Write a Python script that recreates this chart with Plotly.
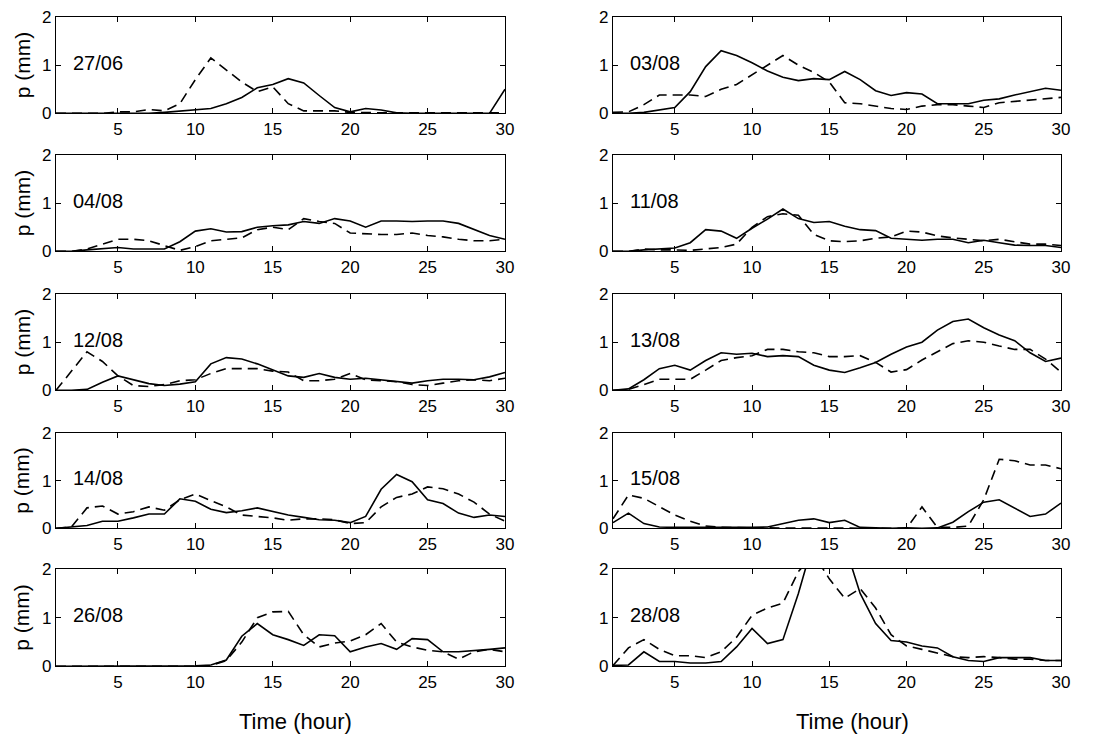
"""
Hourly precipitation p (mm) over 30 hours for ten event dates,
two series per panel (solid and dashed), 5 x 2 grid of small panels.
"""

import plotly.graph_objects as go

hours = list(range(1, 31))
dates = ["27/06", "03/08", "04/08", "11/08", "12/08",
         "13/08", "14/08", "15/08", "26/08", "28/08"]

solid_2706 = [0, 0, 0, 0, 0, 0, 0, 0.02, 0.05, 0.07, 0.1, 0.2, 0.33, 0.53, 0.6,
              0.72, 0.63, 0.37, 0.12, 0.03, 0.1, 0.07, 0.01, 0, 0, 0, 0, 0, 0, 0.5]
dashed_2706 = [0, 0, 0, 0, 0.03, 0.03, 0.08, 0.05, 0.2, 0.7, 1.15, 0.9, 0.65, 0.45, 0.55,
               0.2, 0.05, 0.05, 0.05, 0.02, 0.01, 0.01, 0.01, 0.01, 0.01, 0.01, 0.01, 0.01, 0.01, 0.01]

solid_0308 = [0, 0, 0.02, 0.07, 0.12, 0.45, 0.97, 1.3, 1.2, 1.05, 0.88, 0.75, 0.68, 0.72, 0.7,
              0.87, 0.7, 0.47, 0.37, 0.43, 0.4, 0.2, 0.2, 0.2, 0.27, 0.3, 0.38, 0.45, 0.52, 0.48]
dashed_0308 = [0.02, 0.03, 0.18, 0.38, 0.38, 0.38, 0.35, 0.5, 0.6, 0.8, 1.0, 1.2, 1.0, 0.85, 0.65,
               0.22, 0.2, 0.15, 0.1, 0.08, 0.15, 0.18, 0.18, 0.15, 0.12, 0.22, 0.25, 0.28, 0.3, 0.33]

solid_0408 = [0, 0, 0.03, 0.05, 0.08, 0.05, 0.05, 0.05, 0.2, 0.42, 0.47, 0.4, 0.41, 0.5, 0.53,
              0.55, 0.62, 0.58, 0.68, 0.63, 0.5, 0.63, 0.63, 0.62, 0.63, 0.63, 0.58, 0.45, 0.33, 0.25]
dashed_0408 = [0, 0, 0.05, 0.15, 0.25, 0.25, 0.22, 0.12, 0.02, 0.1, 0.22, 0.25, 0.28, 0.45, 0.5,
               0.45, 0.68, 0.62, 0.58, 0.38, 0.36, 0.35, 0.35, 0.38, 0.33, 0.3, 0.25, 0.22, 0.22, 0.25]

solid_1108 = [0, 0, 0.03, 0.05, 0.07, 0.18, 0.45, 0.42, 0.27, 0.48, 0.67, 0.88, 0.68, 0.6, 0.62,
              0.52, 0.45, 0.43, 0.27, 0.25, 0.23, 0.25, 0.25, 0.18, 0.23, 0.18, 0.13, 0.12, 0.12, 0.08]
dashed_1108 = [0, 0, 0.05, 0.03, 0.03, 0.02, 0.05, 0.08, 0.15, 0.5, 0.72, 0.78, 0.75, 0.35, 0.22,
               0.2, 0.22, 0.27, 0.3, 0.42, 0.4, 0.32, 0.28, 0.25, 0.22, 0.25, 0.2, 0.15, 0.15, 0.12]

solid_1208 = [0, 0, 0.02, 0.17, 0.3, 0.22, 0.14, 0.1, 0.13, 0.18, 0.55, 0.68, 0.65, 0.55, 0.42,
              0.3, 0.27, 0.35, 0.27, 0.23, 0.25, 0.22, 0.18, 0.15, 0.2, 0.23, 0.23, 0.22, 0.28, 0.37]
dashed_1208 = [0, 0.4, 0.8, 0.6, 0.3, 0.1, 0.08, 0.12, 0.2, 0.22, 0.35, 0.45, 0.45, 0.45, 0.4,
               0.38, 0.2, 0.2, 0.23, 0.35, 0.22, 0.2, 0.18, 0.12, 0.1, 0.15, 0.2, 0.22, 0.2, 0.25]

solid_1308 = [0, 0.03, 0.22, 0.45, 0.52, 0.42, 0.62, 0.78, 0.75, 0.77, 0.7, 0.72, 0.7, 0.52, 0.42,
              0.37, 0.47, 0.58, 0.75, 0.9, 1.0, 1.25, 1.43, 1.48, 1.3, 1.15, 1.03, 0.78, 0.6, 0.67]
dashed_1308 = [0, 0.02, 0.12, 0.23, 0.23, 0.23, 0.42, 0.62, 0.68, 0.72, 0.85, 0.85, 0.8, 0.78, 0.7,
               0.7, 0.72, 0.58, 0.38, 0.43, 0.63, 0.8, 0.97, 1.03, 1.0, 0.92, 0.85, 0.85, 0.65, 0.38]

solid_1408 = [0, 0.03, 0.06, 0.15, 0.15, 0.22, 0.3, 0.3, 0.62, 0.57, 0.4, 0.33, 0.37, 0.43, 0.35,
              0.28, 0.23, 0.18, 0.17, 0.12, 0.25, 0.82, 1.13, 0.98, 0.6, 0.52, 0.32, 0.23, 0.28, 0.25]
dashed_1408 = [0, 0.03, 0.43, 0.47, 0.3, 0.35, 0.45, 0.38, 0.6, 0.72, 0.58, 0.45, 0.28, 0.25, 0.22,
               0.17, 0.2, 0.2, 0.18, 0.1, 0.12, 0.45, 0.65, 0.72, 0.87, 0.83, 0.72, 0.55, 0.3, 0.15]

solid_1508 = [0.12, 0.32, 0.1, 0.03, 0.02, 0.02, 0.01, 0.01, 0.01, 0.02, 0.03, 0.1, 0.17, 0.2, 0.12,
              0.17, 0.02, 0.01, 0, 0.01, 0, 0.01, 0.13, 0.35, 0.55, 0.6, 0.42, 0.25, 0.3, 0.53]
dashed_1508 = [0.2, 0.7, 0.63, 0.45, 0.28, 0.15, 0.05, 0.02, 0.01, 0.01, 0.01, 0.01, 0, 0, 0,
               0, 0, 0, 0, 0, 0.45, 0.02, 0.02, 0.05, 0.6, 1.45, 1.42, 1.33, 1.33, 1.25]

solid_2608 = [0, 0, 0, 0, 0, 0, 0, 0, 0, 0.01, 0.03, 0.13, 0.62, 0.88, 0.65,
              0.55, 0.43, 0.65, 0.63, 0.3, 0.4, 0.47, 0.35, 0.57, 0.55, 0.3, 0.3, 0.32, 0.35, 0.38]
dashed_2608 = [0, 0, 0, 0, 0, 0, 0, 0, 0, 0, 0.02, 0.12, 0.5, 1.0, 1.12,
               1.13, 0.65, 0.4, 0.48, 0.52, 0.65, 0.88, 0.5, 0.4, 0.33, 0.3, 0.15, 0.3, 0.35, 0.3]

solid_2808 = [0.02, 0.03, 0.3, 0.1, 0.1, 0.07, 0.07, 0.1, 0.4, 0.78, 0.47, 0.55, 1.5, 2.6, 2.9,
              2.5, 1.5, 0.88, 0.53, 0.5, 0.42, 0.38, 0.2, 0.12, 0.1, 0.18, 0.18, 0.18, 0.12, 0.12]
dashed_2808 = [0.02, 0.38, 0.55, 0.35, 0.22, 0.22, 0.18, 0.3, 0.6, 1.05, 1.2, 1.3, 1.95, 2.3, 1.8,
               1.4, 1.6, 1.2, 0.65, 0.42, 0.35, 0.28, 0.2, 0.18, 0.2, 0.18, 0.15, 0.15, 0.12, 0.12]

# (label, solid, dashed, row, col)
panels = [
    (dates[0], solid_2706, dashed_2706, 0, 0),
    (dates[1], solid_0308, dashed_0308, 0, 1),
    (dates[2], solid_0408, dashed_0408, 1, 0),
    (dates[3], solid_1108, dashed_1108, 1, 1),
    (dates[4], solid_1208, dashed_1208, 2, 0),
    (dates[5], solid_1308, dashed_1308, 2, 1),
    (dates[6], solid_1408, dashed_1408, 3, 0),
    (dates[7], solid_1508, dashed_1508, 3, 1),
    (dates[8], solid_2608, dashed_2608, 4, 0),
    (dates[9], solid_2808, dashed_2808, 4, 1),
]

W, H = 1102, 735
OFF = 8  # page body margin the figure sits inside
FONT = "Liberation Sans, Arial, Helvetica, sans-serif"

# panel geometry in window pixels
col_px = [(56, 505), (613, 1061)]
row_px = [(11, 108), (150, 247), (290, 387), (430, 526), (567, 665)]


def px_x(p):
    return (p - OFF) / W


def px_y(p):
    # squeeze slightly so the top tick labels stay inside the visible page
    p = 17 + (p - 11) * (721 - 17) / (720 - 11)
    return 1 - (p - OFF) / H


fig = go.Figure()
annotations = []

for i, (label, solid, dashed, r, c) in enumerate(panels):
    n = i + 1
    xa = "x" if n == 1 else f"x{n}"
    ya = "y" if n == 1 else f"y{n}"
    fig.add_trace(go.Scatter(
        x=hours, y=dashed, mode="lines", xaxis=xa, yaxis=ya,
        line=dict(color="black", width=1.6, dash="10px,6px"),
        showlegend=False,
    ))
    fig.add_trace(go.Scatter(
        x=hours, y=solid, mode="lines", xaxis=xa, yaxis=ya,
        line=dict(color="black", width=1.6),
        showlegend=False,
    ))

    x0, x1 = col_px[c]
    top, bot = row_px[r]
    axis_common = dict(
        showline=True, linecolor="black", linewidth=1.2, mirror="ticks",
        ticks="inside", ticklen=5, tickwidth=1, tickcolor="black",
        showgrid=False, zeroline=False, automargin=False,
        ticklabeloverflow="allow",
        tickfont=dict(family=FONT, size=17, color="black"),
    )
    fig.layout[f"xaxis{'' if n == 1 else n}"] = dict(
        domain=[px_x(x0), px_x(x1)], anchor=ya, range=[1, 30],
        tickvals=[5, 10, 15, 20, 25, 30], **axis_common,
    )
    fig.layout[f"yaxis{'' if n == 1 else n}"] = dict(
        domain=[px_y(bot), px_y(top)], anchor=xa, range=[0, 2],
        tickvals=[0, 1, 2], **axis_common,
    )

    annotations.append(dict(
        x=2, y=1.05, xref=xa, yref=ya, text=label, showarrow=False,
        xanchor="left", yanchor="middle",
        font=dict(family=FONT, size=20, color="black"),
    ))
    if c == 0:
        annotations.append(dict(
            x=px_x(22), y=px_y((top + bot) / 2), xref="paper", yref="paper",
            text="p (mm)", textangle=-90, showarrow=False,
            xanchor="center", yanchor="middle",
            font=dict(family=FONT, size=21, color="black"),
        ))
    if r == 4:
        annotations.append(dict(
            x=px_x((x0 + x1) / 2 + 15), y=px_y(720), xref="paper", yref="paper",
            text="Time (hour)", showarrow=False,
            xanchor="center", yanchor="middle",
            font=dict(family=FONT, size=22, color="black"),
        ))

fig.update_layout(
    width=W, height=H,
    margin=dict(l=0, r=0, t=0, b=0, pad=0),
    paper_bgcolor="white", plot_bgcolor="white",
    annotations=annotations,
    font=dict(family=FONT, color="black"),
)

fig.write_html("out.html")
